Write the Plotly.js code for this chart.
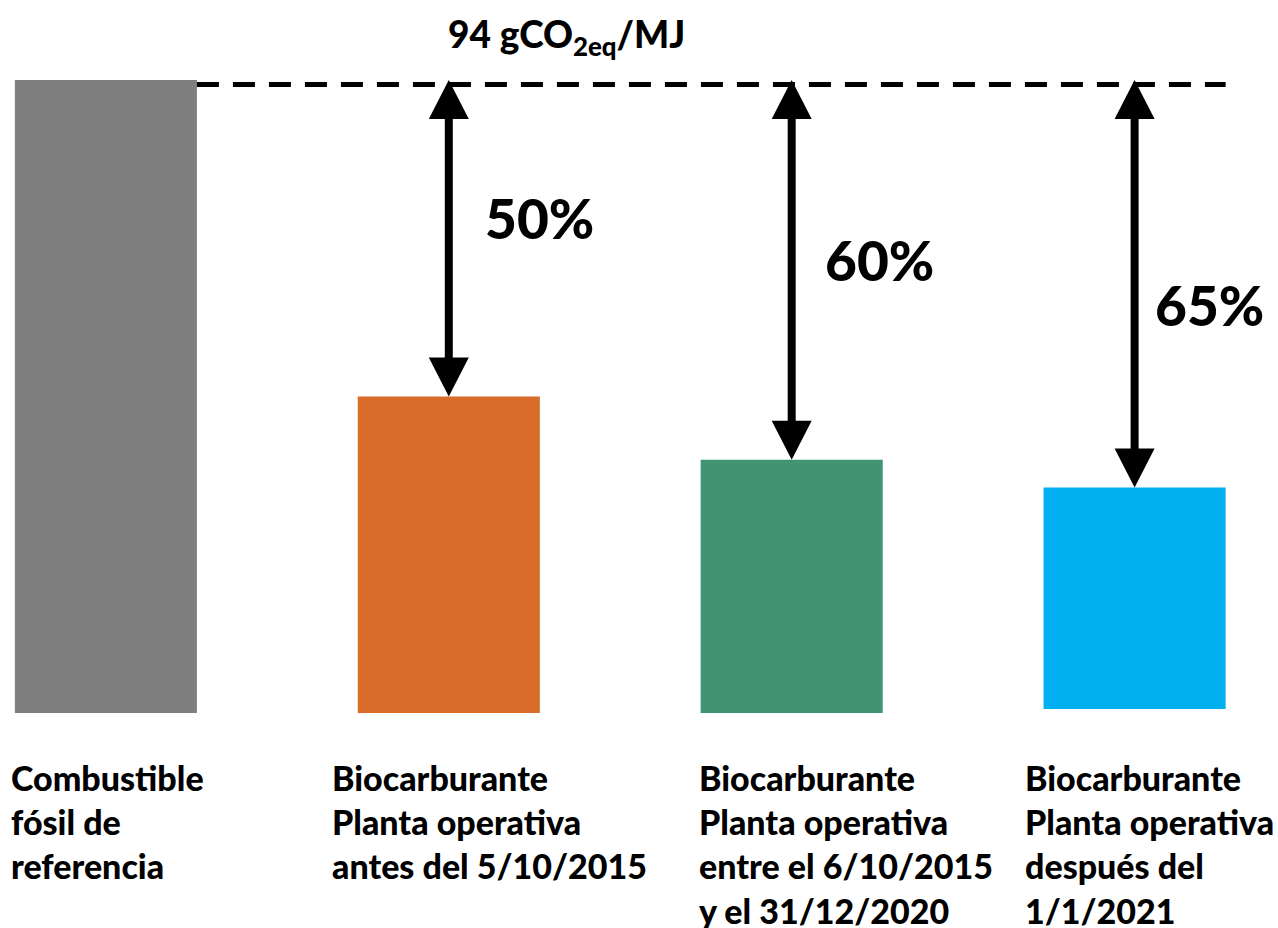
<!DOCTYPE html>
<html>
<head>
<meta charset="utf-8">
<script src="https://cdn.plot.ly/plotly-3.0.1.min.js"></script>
<style>
  html, body { margin: 0; padding: 0; background: #ffffff; }
  #chart { width: 1278px; height: 928px; }
</style>
</head>
<body>
<div id="chart"></div>
<script>
// ---- data ----
const categories = [
  "Combustible<br>fósil de<br>referencia",
  "Biocarburante<br>Planta operativa<br>antes del 5/10/2015",
  "Biocarburante<br>Planta operativa<br>entre el 6/10/2015<br>y el 31/12/2020",
  "Biocarburante<br>Planta operativa<br>después del<br>1/1/2021"
];
const emissions = [94, 47, 37.6, 32.9];      // gCO2eq/MJ (bar heights)
const barBase   = [0, 0, 0, 0.6];             // bar bottoms
const savings   = ["", "50%", "60%", "65%"];  // reduction labels
const referenceValue = 94;
const referenceLabel = "94 gCO<sub>2eq</sub>/MJ";
const barColors = ["#7f7f7f", "#da6c2b", "#409472", "#00b0f0"];

// ---- layout helpers ----
const FONT = "Lato, 'Open Sans', sans-serif";
const labelShift = [-97, -119, -95, -112];    // px, left edge of label relative to bar centre
const pctShift   = [0, 91, 88, 75];           // px, label centre relative to bar centre
const pctY       = [0, 73.5, 67.3, 60.6];     // vertical placement of % labels (axis units)

const tops = emissions.map((v, i) => v + barBase[i]);

const trace = {
  type: "bar",
  x: categories,
  y: emissions,
  base: barBase,
  width: 0.531,
  marker: { color: barColors, line: { width: 0 } },
  hoverinfo: "skip"
};

const shapes = [];
// dashed reference line from right edge of first bar to right edge of last bar
shapes.push({
  type: "line", xref: "x", yref: "y",
  x0: 0.2655, x1: categories.length - 1 + 0.2655,
  ysizemode: "pixel", yanchor: referenceValue, y0: -4.5, y1: -4.5,
  line: { color: "#000000", width: 5, dash: "22px,14px" }
});

const annotations = [];
for (let i = 1; i < categories.length; i++) {
  shapes.push({
    type: "line", xref: "x", yref: "y",
    x0: i, x1: i, y0: tops[i] + 2, y1: referenceValue - 2,
    line: { color: "#000000", width: 8 }
  });
  shapes.push({
    type: "path", xref: "x", yref: "y",
    xsizemode: "pixel", ysizemode: "pixel",
    xanchor: i, yanchor: tops[i],
    path: "M-20,39L20,39L0,0Z",
    fillcolor: "#000000", line: { width: 0 }
  });
  shapes.push({
    type: "path", xref: "x", yref: "y",
    xsizemode: "pixel", ysizemode: "pixel",
    xanchor: i, yanchor: referenceValue,
    path: "M-20,-39L20,-39L0,0Z",
    fillcolor: "#000000", line: { width: 0 }
  });
  annotations.push({
    xref: "x", yref: "y", x: i, y: pctY[i], xshift: pctShift[i],
    text: savings[i], showarrow: false,
    xanchor: "center", yanchor: "middle",
    font: { family: FONT, size: 55, color: "#000000", weight: 900 }
  });
}

// category labels below the bars
categories.forEach((c, i) => {
  annotations.push({
    xref: "x", yref: "paper", x: i, y: (928 - 755) / 928, xshift: labelShift[i],
    text: c, showarrow: false,
    xanchor: "left", yanchor: "top", align: "left",
    font: { family: FONT, size: 34, color: "#000000", weight: 900 }
  });
});

// reference value label
annotations.push({
  xref: "paper", yref: "paper", x: 566 / 1278, y: (928 - 37) / 928,
  text: referenceLabel, showarrow: false,
  xanchor: "center", yanchor: "middle",
  font: { family: FONT, size: 37, color: "#000000", weight: 900 }
});

const layout = {
  width: 1278, height: 928,
  margin: { l: 0, r: 0, t: 0, b: 0, pad: 0 },
  paper_bgcolor: "#ffffff", plot_bgcolor: "#ffffff",
  showlegend: false,
  xaxis: { type: "category", visible: false, range: [-0.3088, 3.4182], fixedrange: true },
  yaxis: { visible: false, range: [-31.93, 105.88], fixedrange: true },
  shapes: shapes,
  annotations: annotations
};

Plotly.newPlot("chart", [trace], layout, { displayModeBar: false, staticPlot: true });
</script>
</body>
</html>
